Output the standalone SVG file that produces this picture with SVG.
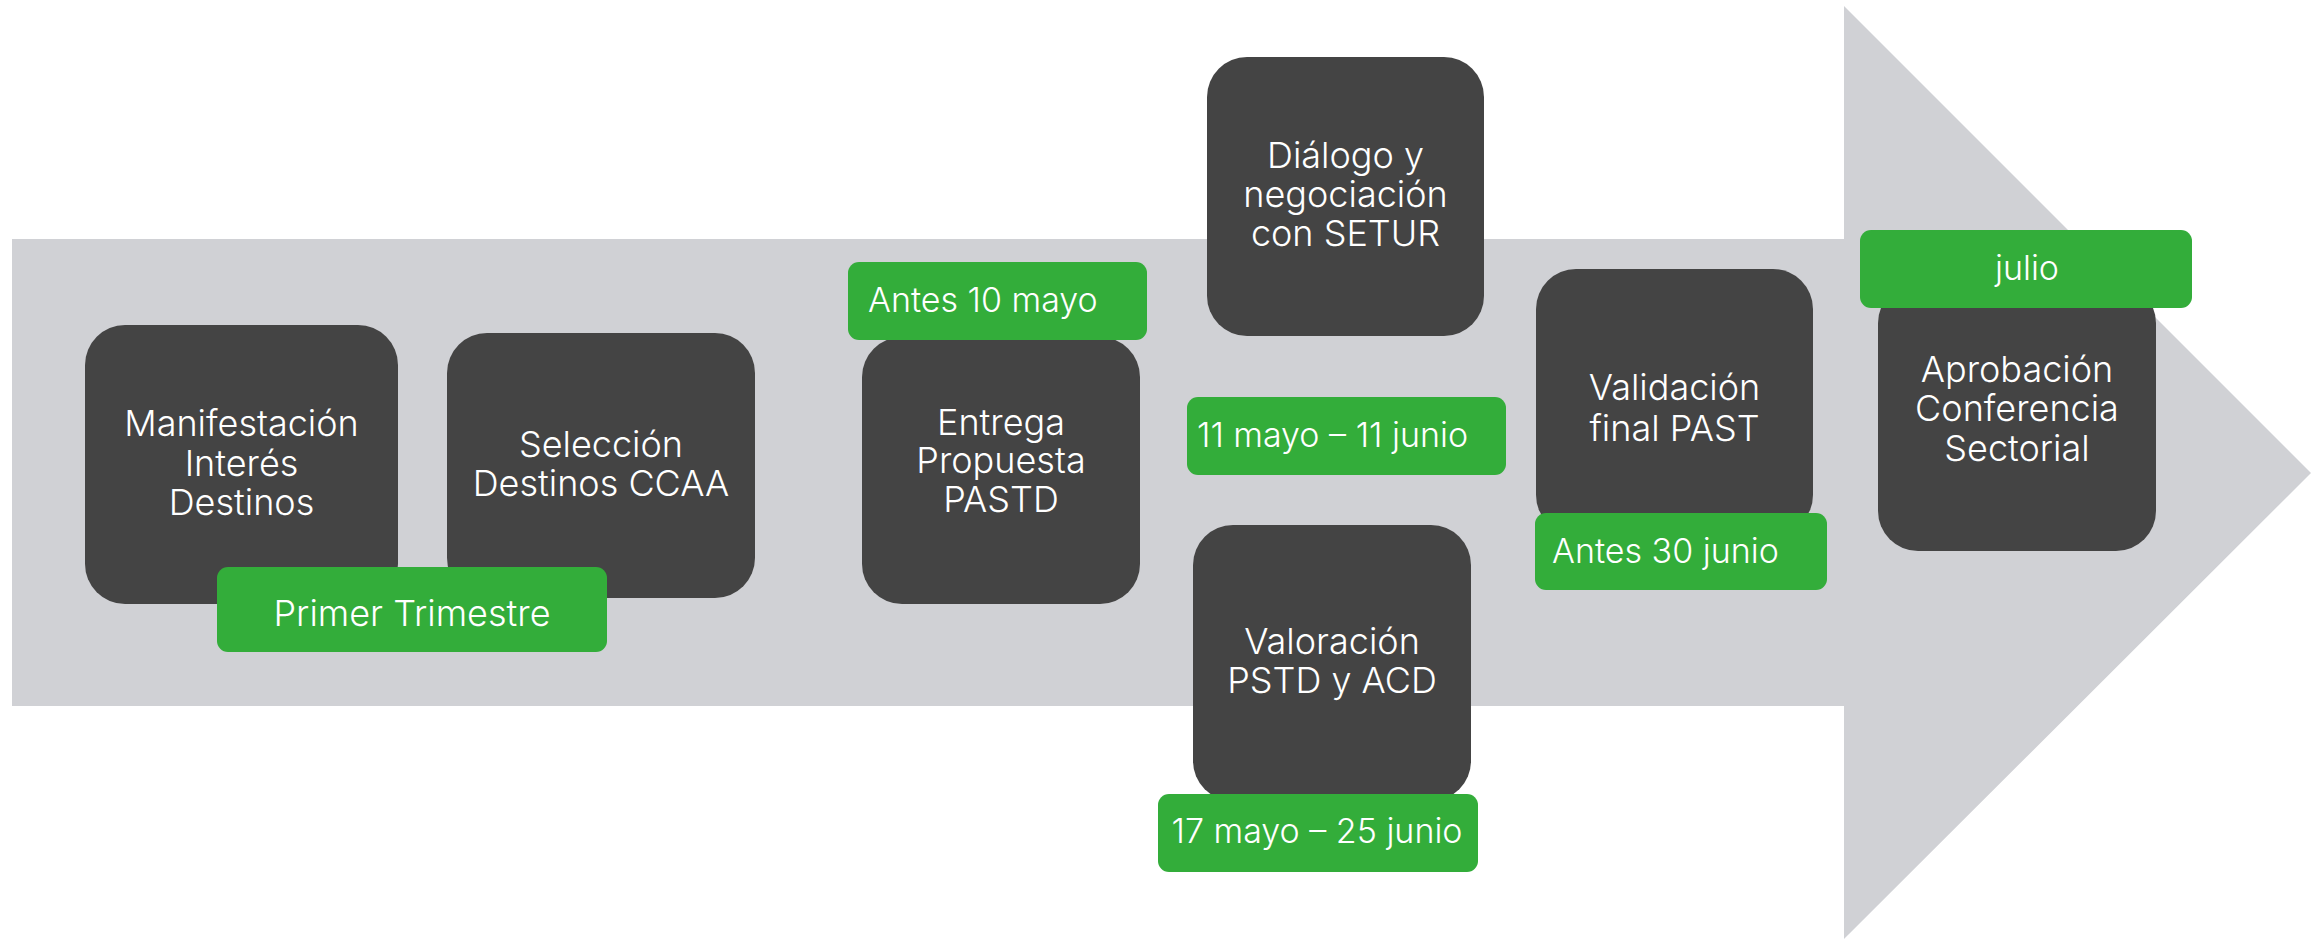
<svg xmlns="http://www.w3.org/2000/svg" width="2321" height="944" viewBox="0 0 2321 944">
<style>
.box{fill:#444444;}
.tag{fill:#33AD3A;}
.t{font-family:Inter,"Roboto","Liberation Sans",sans-serif;font-weight:300;fill:#FFFFFF;font-size:36px;}
.g{font-family:Inter,"Roboto","Liberation Sans",sans-serif;font-weight:300;fill:#FFFFFF;font-size:34px;}
.c{text-anchor:middle;}
</style>
<rect width="2321" height="944" fill="#FFFFFF"/>
<polygon id="arrow" points="12,239 1844,239 1844,6 2311,473 1844,939 1844,706 12,706" fill="#D0D1D5"/>
<g id="connectors"></g>
<g id="n1">
<rect class="box" x="85" y="325" width="313" height="279" rx="40"/>
<text class="t c" x="241.5" y="436">Manifestación</text>
<text class="t c" x="241.5" y="476">Interés</text>
<text class="t c" x="241.5" y="515">Destinos</text>
</g>
<g id="n2">
<rect class="box" x="447" y="333" width="308" height="265" rx="40"/>
<text class="t c" x="601" y="457">Selección</text>
<text class="t c" x="601" y="496">Destinos CCAA</text>
</g>
<g id="d1">
<rect class="tag" x="217" y="567" width="390" height="85" rx="11"/>
<text class="g c" x="412" y="626" style="font-size:36px">Primer Trimestre</text>
</g>
<g id="n3">
<rect class="box" x="862" y="337" width="278" height="267" rx="40"/>
<text class="t c" x="1001" y="435">Entrega</text>
<text class="t c" x="1001" y="473">Propuesta</text>
<text class="t c" x="1001" y="512">PASTD</text>
</g>
<g id="d2">
<rect class="tag" x="848" y="262" width="299" height="78" rx="11"/>
<text class="g" x="868" y="312">Antes 10 mayo</text>
</g>
<g id="n4">
<rect class="box" x="1207" y="57" width="277" height="279" rx="40"/>
<text class="t c" x="1345.5" y="168">Diálogo y</text>
<text class="t c" x="1345.5" y="207">negociación</text>
<text class="t c" x="1345.5" y="246">con SETUR</text>
</g>
<g id="d3">
<rect class="tag" x="1187" y="397" width="319" height="78" rx="11"/>
<text class="g" x="1197" y="447">11 mayo – 11 junio</text>
</g>
<g id="n5">
<rect class="box" x="1193" y="525" width="278" height="276" rx="40"/>
<text class="t c" x="1332" y="654">Valoración</text>
<text class="t c" x="1332" y="693">PSTD y ACD</text>
</g>
<g id="d4">
<rect class="tag" x="1158" y="794" width="320" height="78" rx="11"/>
<text class="g c" x="1317" y="843">17 mayo – 25 junio</text>
</g>
<g id="n6">
<rect class="box" x="1536" y="269" width="277" height="266" rx="40"/>
<text class="t c" x="1674.5" y="400">Validación</text>
<text class="t c" x="1674.5" y="441">final PAST</text>
</g>
<g id="d5">
<rect class="tag" x="1535" y="513" width="292" height="77" rx="11"/>
<text class="g" x="1552" y="563">Antes 30 junio</text>
</g>
<g id="n7">
<rect class="box" x="1878" y="283" width="278" height="268" rx="40"/>
<text class="t c" x="2017" y="382">Aprobación</text>
<text class="t c" x="2017" y="421">Conferencia</text>
<text class="t c" x="2017" y="461">Sectorial</text>
</g>
<g id="d6">
<rect class="tag" x="1860" y="230" width="332" height="78" rx="11"/>
<text class="g c" x="2027" y="280">julio</text>
</g>
</svg>
